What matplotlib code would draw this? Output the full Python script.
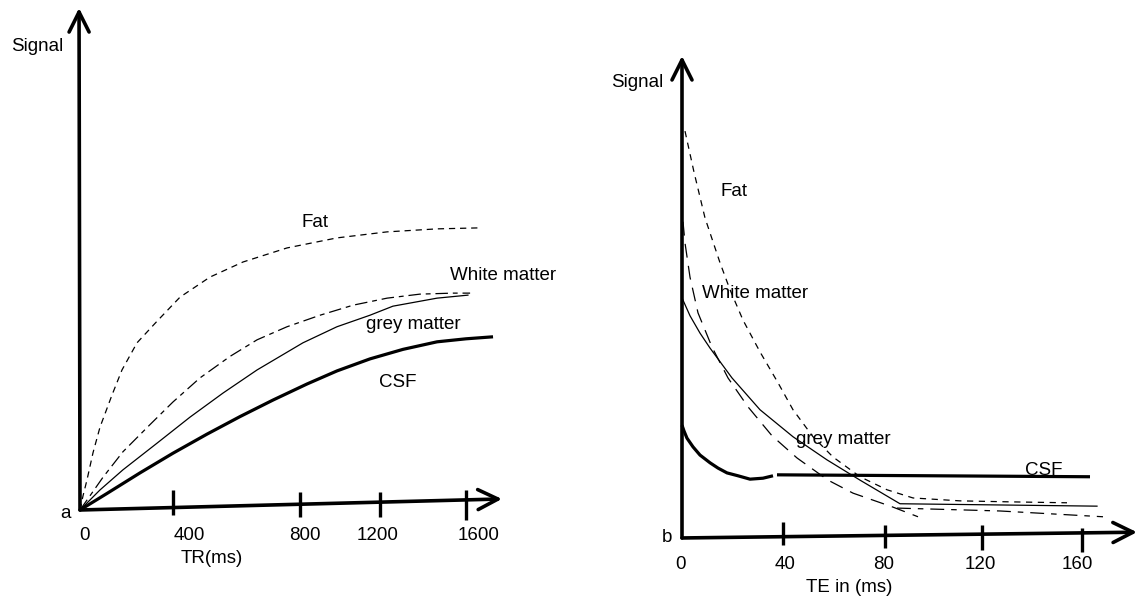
import matplotlib.pyplot as plt

plt.rcParams['font.family'] = ['Liberation Sans', 'DejaVu Sans']
plt.rcParams['lines.scale_dashes'] = False

# ---- panel a: signal (arbitrary units) against TR in ms ----
fat_tr = [0, 12.4, 29, 53.9, 82.9, 132.6, 174.1, 236.3, 319.2, 414.5, 538.9, 675.6, 858, 1065, 1272.5, 1479.8, 1658]
fat_sig_a = [0, 2.8, 6.0, 11.4, 16.5, 22.9, 27.9, 33.3, 37.6, 42.4, 46.4, 49.4, 52.2, 54.2, 55.4, 56.0, 56.2]

wm_tr = [0, 41, 95, 178, 290, 385, 497, 622, 734, 858, 995, 1132, 1273, 1409, 1546, 1617]
wm_sig_a = [0, 2.8, 6.5, 11.6, 17.0, 21.5, 26.3, 30.6, 33.9, 36.5, 38.8, 40.8, 42.2, 43.0, 43.2, 43.2]

gm_tr = [0, 83, 178, 319, 456, 593, 734, 924, 1065, 1202, 1297, 1480, 1608]
gm_sig_a = [0, 4.0, 8.0, 13.3, 18.5, 23.3, 27.9, 33.3, 36.5, 38.8, 40.6, 42.2, 42.8]

csf_tr = [0, 112, 249, 385, 526, 663, 800, 941, 1065, 1202, 1339, 1480, 1600, 1712]
csf_sig_a = [0, 3.3, 7.4, 11.3, 15.1, 18.6, 21.9, 25.1, 27.7, 30.1, 32.0, 33.5, 34.1, 34.5]

tr_tick_labels = ['0', '400', '800', '1200', '1600']
tr_tick_marks = [385, 912, 1243, 1600]   # where the hand-drawn ticks sit

# ---- panel b: signal against TE in ms ----
fat_te = [1.2, 4.8, 9.2, 15.2, 19.2, 24.4, 31.2, 38.4, 44.4, 52.4, 60.4, 71.2, 82.0, 92.4, 111.2, 130.4, 154]
fat_sig_b = [84.4, 75.9, 66.4, 57.1, 51.5, 45.2, 38.6, 32.2, 26.6, 21.0, 16.8, 12.7, 10.0, 8.3, 7.7, 7.5, 7.3]

gm_te = [0, 3.2, 7.2, 11.2, 20, 31.2, 44.4, 58, 71.2, 87.2, 166]
gm_sig_b = [49.8, 46.1, 42.5, 39.4, 33.2, 26.6, 21.0, 16.2, 12.0, 7.1, 6.6]

wm_te = [0.4, 1.2, 3.2, 6.4, 12, 18.4, 26.4, 36, 46, 58.4, 68.4, 84.4, 94.4]
wm_sig_b = [65.6, 61.2, 54.1, 46.7, 39.6, 33.2, 27.2, 21.2, 16.6, 12.0, 9.3, 6.4, 4.4]

wm_tail_te = [86, 127.2, 168.4]
wm_tail_sig = [6.2, 5.6, 4.4]

csf_te = [0, 0.8, 2, 4.4, 7.2, 11.2, 14.4, 18, 22.4, 27.2, 32.4, 36.4]
csf_sig_b = [23.4, 22.2, 20.7, 18.9, 17.2, 15.6, 14.5, 13.5, 12.9, 12.2, 12.4, 12.9]
csf_flat_te = [38, 163.2]
csf_flat_sig = [13.1, 12.7]

te_tick_labels = ['0', '40', '80', '120', '160']
te_tick_marks = [40.4, 81.2, 120, 160]

W, H = 1139, 599
fig = plt.figure(figsize=(W / 100, H / 100), dpi=100)

FS = 13.5
arrow = dict(arrowstyle='->,head_length=0.6,head_width=0.3', lw=2.6, color='black',
             shrinkA=0, shrinkB=0, mutation_scale=24)


def draw_axes(ax, x_tip, y_tip):
    ax.annotate('', xy=y_tip, xytext=(0, 0), arrowprops=arrow, annotation_clip=False)
    ax.annotate('', xy=x_tip, xytext=(0, 0), arrowprops=arrow, annotation_clip=False)


# panel a
ax = fig.add_axes([0, 0, 560 / W, 1])
ax.set_xlim(-331.6, 1989.6)
ax.set_ylim(-17.73, 101.59)
ax.axis('off')
draw_axes(ax, (1749, 2.2), (-4, 100))

ax.plot(fat_tr, fat_sig_a, color='black', lw=0.9, dashes=(4.5, 3.5))
ax.plot(wm_tr, wm_sig_a, color='black', lw=0.9, dashes=(9, 3.5, 3.5, 3.5))
ax.plot(gm_tr, gm_sig_a, color='black', lw=0.9)
ax.plot(csf_tr, csf_sig_a, color='black', lw=2.3, solid_capstyle='butt')

tick_top = [4.0, 3.6, 3.6, 4.0]
tick_bot = [-1.0, -1.4, -1.4, -2.0]
for x, y0, y1 in zip(tr_tick_marks, tick_bot, tick_top):
    ax.plot([x, x], [y0, y1], color='black', lw=2.4, solid_capstyle='butt')

for lab, x in zip(tr_tick_labels, [17, 452, 933, 1235, 1650]):
    ax.text(x, -5.0, lab, ha='center', va='center', fontsize=FS)
ax.text(547, -9.6, 'TR(ms)', ha='center', va='center', fontsize=FS)
ax.text(-62, -0.6, 'a', ha='center', va='center', fontsize=FS)
ax.text(-178, 92.4, 'Signal', ha='center', va='center', fontsize=FS)
ax.text(974, 57.2, 'Fat', ha='center', va='center', fontsize=FS)
ax.text(1534, 46.8, 'White matter', ha='left', va='center', fontsize=FS)
ax.text(1380, 36.9, 'grey matter', ha='center', va='center', fontsize=FS)
ax.text(1318, 25.3, 'CSF', ha='center', va='center', fontsize=FS)

# panel b
ax = fig.add_axes([560 / W, 0, 579 / W, 1])
ax.set_xlim(-48.8, 182.8)
ax.set_ylim(-12.66, 111.6)
ax.axis('off')
draw_axes(ax, (182, 1.2), (0, 100))

ax.plot(fat_te, fat_sig_b, color='black', lw=0.9, dashes=(4.5, 4))
ax.plot(gm_te, gm_sig_b, color='black', lw=0.9)
ax.plot(wm_te, wm_sig_b, color='black', lw=0.9, dashes=(10, 6))
ax.plot(wm_tail_te, wm_tail_sig, color='black', lw=0.9, dashes=(10, 5, 4, 5))
ax.plot(csf_te, csf_sig_b, color='black', lw=2.3, solid_capstyle='butt')
ax.plot(csf_flat_te, csf_flat_sig, color='black', lw=2.3, solid_capstyle='butt')

tick_top = [3.3, 2.7, 2.7, 2.1]
tick_bot = [-1.5, -2.1, -2.5, -2.9]
for x, y0, y1 in zip(te_tick_marks, tick_bot, tick_top):
    ax.plot([x, x], [y0, y1], color='black', lw=2.4, solid_capstyle='butt')

for lab, x in zip(te_tick_labels, [-0.4, 41.2, 80.8, 119.2, 158]):
    ax.text(x, -5.4, lab, ha='center', va='center', fontsize=FS)
ax.text(66.8, -10.2, 'TE in (ms)', ha='center', va='center', fontsize=FS)
ax.text(-6, 0.2, 'b', ha='center', va='center', fontsize=FS)
ax.text(-18, 94.4, 'Signal', ha='center', va='center', fontsize=FS)
ax.text(20.8, 71.8, 'Fat', ha='center', va='center', fontsize=FS)
ax.text(29.2, 50.8, 'White matter', ha='center', va='center', fontsize=FS)
ax.text(64.4, 20.5, 'grey matter', ha='center', va='center', fontsize=FS)
ax.text(144.8, 14.1, 'CSF', ha='center', va='center', fontsize=FS)

fig.savefig('out.png', dpi=100)
